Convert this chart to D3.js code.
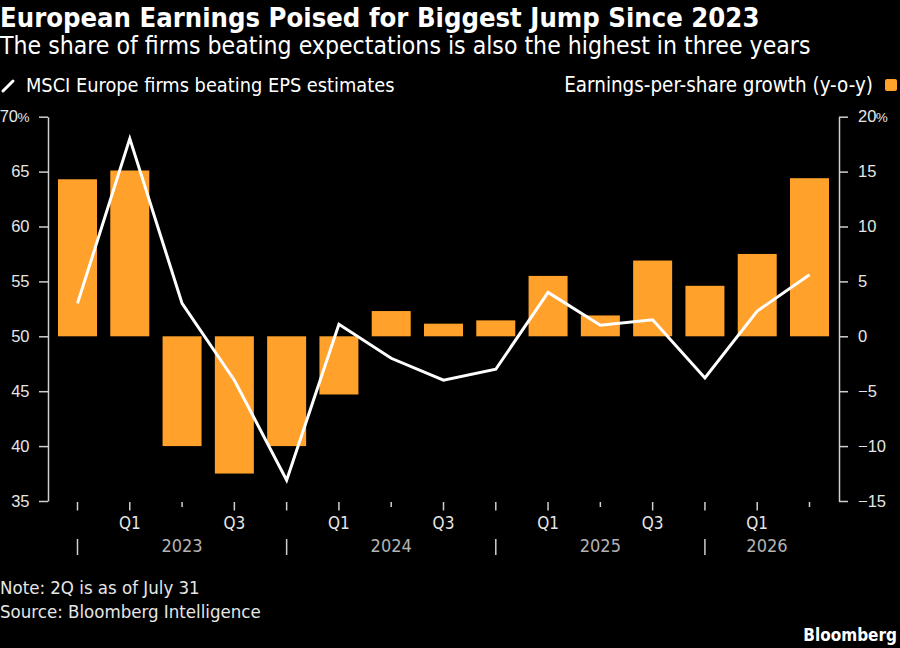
<!DOCTYPE html>
<html>
<head>
<meta charset="utf-8">
<script src="https://cdn.jsdelivr.net/npm/d3@7"></script>
<style>
  body { margin: 0; background: #000; }
  svg { display: block; font-family: "DejaVu Sans Condensed", "DejaVu Sans", sans-serif; font-stretch: condensed; }
</style>
</head>
<body>
<div id="chart"></div>
<script>
// quarters, Q4 2022 .. Q2 2026
var quarters = ["Q4", "Q1", "Q2", "Q3", "Q4", "Q1", "Q2", "Q3", "Q4", "Q1", "Q2", "Q3", "Q4", "Q1", "Q2"];
var years    = [2022, 2023, 2023, 2023, 2023, 2024, 2024, 2024, 2024, 2025, 2025, 2025, 2025, 2026, 2026];
// % of MSCI Europe firms beating EPS estimates (left axis)
var beatShare = [53.0, 68.0, 53.0, 46.0, 36.9, 51.1, 48.0, 46.0, 47.0, 54.0, 51.0, 51.5, 46.2, 52.3, 55.6];
// EPS growth y-o-y, % (right axis)
var epsGrowth = [14.3, 15.1, -10.0, -12.5, -10.0, -5.3, 2.3, 1.15, 1.45, 5.5, 1.9, 6.9, 4.6, 7.5, 14.4];

var leftTicks = [35, 40, 45, 50, 55, 60, 65, 70];
var rightTicks = [-15, -10, -5, 0, 5, 10, 15, 20];
var quarterLabels = ["Q1", "Q3"];
var yearLabels = [2023, 2024, 2025, 2026];

var width = 900, height = 648;
var orange = "#ffa12b";
var idx = d3.range(quarters.length);

var svg = d3.select("#chart").append("svg")
    .attr("width", width).attr("height", height);

var x = d3.scalePoint().domain(idx).range([77.5, 809.5]);
var yL = d3.scaleLinear().domain([35, 70]).range([501, 116.7]);
var yR = d3.scaleLinear().domain([-15, 20]).range([501, 116.7]);
var barW = 39;

// titles
svg.append("text").attr("x", 0).attr("y", 27)
  .attr("font-size", "27.2px").attr("font-weight", "bold").attr("fill", "#fff")
  .text("European Earnings Poised for Biggest Jump Since 2023");
svg.append("text").attr("x", 0).attr("y", 54)
  .attr("font-size", "24.6px").attr("fill", "#fff")
  .text("The share of firms beating expectations is also the highest in three years");

// legend
svg.append("line").attr("x1", 3).attr("y1", 91).attr("x2", 13).attr("y2", 81)
  .attr("stroke", "#fff").attr("stroke-width", 3).attr("stroke-linecap", "round");
svg.append("text").attr("x", 26).attr("y", 92)
  .attr("font-size", "19.8px").attr("fill", "#fff")
  .text("MSCI Europe firms beating EPS estimates");
svg.append("text").attr("x", 873).attr("y", 92).attr("text-anchor", "end")
  .attr("font-size", "20.4px").attr("fill", "#fff")
  .text("Earnings-per-share growth (y-o-y)");
svg.append("rect").attr("x", 885).attr("y", 79).attr("width", 12).attr("height", 12)
  .attr("rx", 2).attr("fill", orange);

// bars
svg.selectAll("rect.bar")
  .data(idx)
  .enter()
  .append("rect")
  .attr("class", "bar")
  .attr("x", function(i){ return x(i) - barW / 2; })
  .attr("y", function(i){ return yR(Math.max(0, epsGrowth[i])); })
  .attr("width", barW)
  .attr("height", function(i){ return Math.abs(yR(epsGrowth[i]) - yR(0)); })
  .attr("fill", orange);

// line
var line = d3.line()
  .x(function(i){ return x(i); })
  .y(function(i){ return yL(beatShare[i]); });
svg.append("path").datum(idx)
  .attr("d", line)
  .attr("fill", "none").attr("stroke", "#fff").attr("stroke-width", 3)
  .attr("stroke-linejoin", "miter");

// axes
var axisColor = "#cfcfcf", labelColor = "#e6e6e6";
function styleAxis(g) {
  g.selectAll("path.domain").attr("stroke", axisColor).attr("stroke-width", 1.5);
  g.selectAll(".tick line").attr("stroke", axisColor).attr("stroke-width", 1.5);
  g.selectAll(".tick text").attr("fill", labelColor).attr("font-size", "16.5px")
    .attr("font-family", null);
}
// top label carries a narrower % sign
function addPct(g, top) {
  g.selectAll(".tick text").filter(function(d){ return d === top; })
    .append("tspan").attr("font-size", "13.5px").attr("dx", -0.5).text("%");
}

var leftAxis = svg.append("g").attr("transform", "translate(48,0)")
  .call(d3.axisLeft(yL).tickValues(leftTicks).tickSize(9).tickSizeOuter(0).tickPadding(9.5));
styleAxis(leftAxis);
addPct(leftAxis, 70);

var rightAxis = svg.append("g").attr("transform", "translate(839,0)")
  .call(d3.axisRight(yR).tickValues(rightTicks).tickSize(9).tickSizeOuter(0).tickPadding(10));
styleAxis(rightAxis);
addPct(rightAxis, 20);

// quarter ticks (Q2 ticks are shorter)
svg.selectAll("line.qtick")
  .data(idx)
  .enter()
  .append("line")
  .attr("class", "qtick")
  .attr("x1", function(i){ return x(i); }).attr("x2", function(i){ return x(i); })
  .attr("y1", 502).attr("y2", function(i){ return quarters[i] === "Q2" ? 507 : 510.5; })
  .attr("stroke", axisColor).attr("stroke-width", 1.5);

svg.selectAll("text.qlabel")
  .data(idx.filter(function(i){ return quarterLabels.indexOf(quarters[i]) >= 0; }))
  .enter()
  .append("text")
  .attr("class", "qlabel")
  .attr("x", function(i){ return x(i); })
  .attr("y", 529)
  .attr("text-anchor", "middle")
  .attr("font-size", "17px").attr("fill", labelColor)
  .text(function(i){ return quarters[i]; });

// year separators sit on each Q4 tick
var seps = idx.filter(function(i){ return quarters[i] === "Q4"; });
svg.selectAll("line.ysep")
  .data(seps)
  .enter()
  .append("line")
  .attr("class", "ysep")
  .attr("x1", function(i){ return x(i); }).attr("x2", function(i){ return x(i); })
  .attr("y1", 539).attr("y2", 555)
  .attr("stroke", axisColor).attr("stroke-width", 1.5);

svg.selectAll("text.ylabel")
  .data(yearLabels)
  .enter()
  .append("text")
  .attr("class", "ylabel")
  .attr("x", function(yr, k){
    var a = x(seps[k]);
    var b = k + 1 < seps.length ? x(seps[k + 1]) : x(idx[idx.length - 1]) + barW / 2;
    return (a + b) / 2;
  })
  .attr("y", 552)
  .attr("text-anchor", "middle")
  .attr("font-size", "18px").attr("fill", "#b3b3b3")
  .text(function(d){ return d; });

// notes
svg.append("text").attr("x", 0).attr("y", 594)
  .attr("font-size", "18.5px").attr("fill", "#e6e6e6")
  .text("Note: 2Q is as of July 31");
svg.append("text").attr("x", 0).attr("y", 618)
  .attr("font-size", "18.5px").attr("fill", "#e6e6e6")
  .text("Source: Bloomberg Intelligence");
svg.append("text").attr("x", 897).attr("y", 641).attr("text-anchor", "end")
  .attr("font-size", "17px").attr("font-weight", "bold").attr("fill", "#fff")
  .text("Bloomberg");
</script>
</body>
</html>
